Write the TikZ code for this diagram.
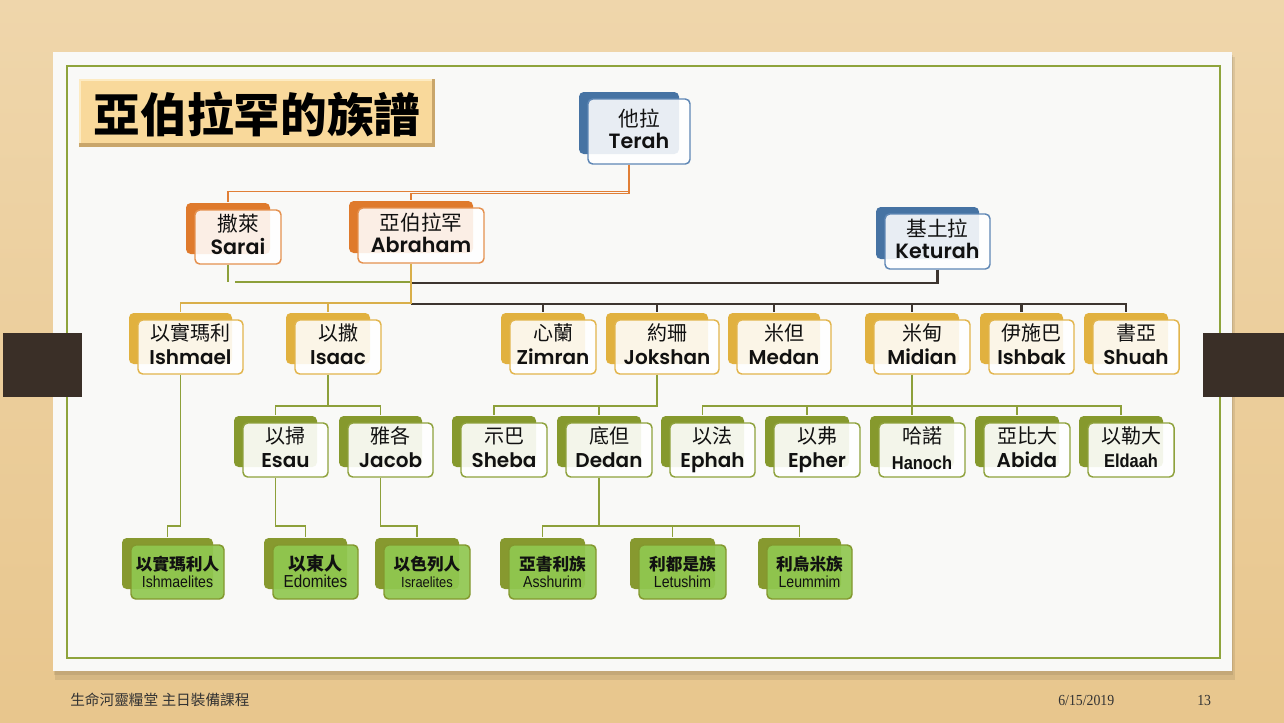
\documentclass[tikz,border=0pt]{standalone}
\usepackage{fontspec}
\setmainfont{Poppins}[BoldFont={Poppins SemiBold}]
\newfontfamily\cjk{Noto Sans CJK TC}
\newfontfamily\arf{Liberation Sans}[FakeStretch=0.88]
\newfontfamily\serf{Liberation Serif}[FakeStretch=0.9]
\definecolor{bgtop}{HTML}{EFD6AB}
\definecolor{bgbot}{HTML}{E8C68D}
\definecolor{paper}{HTML}{F9F9F7}
\definecolor{frame}{HTML}{8FA43C}
\definecolor{band}{HTML}{3A2F27}
\definecolor{tmain}{HTML}{F9D99B}
\definecolor{tdark}{HTML}{C9A66B}
\definecolor{tlight}{HTML}{FDEBC2}
\definecolor{cblue}{HTML}{4673A3}
\definecolor{cblueb}{HTML}{5F87B5}
\definecolor{corange}{HTML}{DF7A2C}
\definecolor{coranb}{HTML}{E5914F}
\definecolor{cgold}{HTML}{E1B13F}
\definecolor{cgoldb}{HTML}{E2B54D}
\definecolor{cgreen}{HTML}{86992D}
\definecolor{cgreenb}{HTML}{8FA23D}
\definecolor{clime}{HTML}{90C850}
\definecolor{climeb}{HTML}{83982E}
\definecolor{climeback}{HTML}{87992F}
\definecolor{txt}{HTML}{111111}
\definecolor{lor}{HTML}{E17F36}
\definecolor{lgold}{HTML}{D9AF4A}
\definecolor{lolive}{HTML}{8DA03A}
\definecolor{ldark}{HTML}{3D352F}
\tikzset{
  box/.style={rectangle, rounded corners=3.5pt, inner sep=0pt, line width=1.1pt},
  blueback/.style={box, fill=cblue},
  bluefront/.style={box, draw=cblueb, fill=white, fill opacity=0.88},
  orangeback/.style={box, fill=corange},
  orangefront/.style={box, draw=coranb, fill=white, fill opacity=0.88},
  goldback/.style={box, fill=cgold},
  goldfront/.style={box, draw=cgoldb, fill=white, fill opacity=0.88},
  greenback/.style={box, fill=cgreen},
  greenfront/.style={box, draw=cgreenb, fill=white, fill opacity=0.9},
  limeback/.style={box, fill=climeback},
  limefront/.style={box, draw=climeb, fill=clime, fill opacity=0.92},
  cjkbase/.style={inner sep=0pt, text=txt, font=\cjk\fontsize{15}{18}\selectfont},
  engbase/.style={inner sep=0pt, text=txt, anchor=base, font=\bfseries\fontsize{15}{18}\selectfont},
  bluecjk/.style={cjkbase, font=\cjk\fontsize{15.5}{18}\selectfont, yshift=9.75pt},
  blueeng/.style={engbase, font=\bfseries\fontsize{15.5}{18}\selectfont, yshift=-12.75pt},
  orangecjk/.style={bluecjk},
  orangeeng/.style={blueeng},
  goldcjk/.style={cjkbase, yshift=10.5pt},
  goldeng/.style={engbase, yshift=-12.75pt},
  greencjk/.style={goldcjk},
  greeneng/.style={goldeng},
  limecjk/.style={cjkbase, font=\cjk\bfseries\fontsize{12.5}{15}\selectfont, yshift=6pt},
  limeeng/.style={engbase, font=\arf\fontsize{12}{14}\selectfont, yshift=-11.25pt},
  orl/.style={draw=lor, line width=1.1pt},
  gol/.style={draw=lgold, line width=1.1pt},
  oll/.style={draw=lolive, line width=1.1pt},
  dkl/.style={draw=ldark, line width=1.6pt},
}
% name, kind, cx, cy, w, h, cjk, eng
\newcommand{\famnode}[8]{%
  \node[#2back, minimum width={(#5-2)*0.75pt}, minimum height={(#6-3)*0.75pt}] (#1b) at (#3-10,#4-8.5) {};
  \node[#2front, minimum width={#5*0.75pt}, minimum height={#6*0.75pt}] (#1) at (#3,#4) {};
  \node[#2cjk] (#1c) at (#3,#4) {#7};
  \node[#2eng] (#1e) at (#3,#4) {#8};
}
\begin{document}
\begin{tikzpicture}[x=0.75pt,y=-0.75pt]
\useasboundingbox (0,0) rectangle (1284,722);
\shade[top color=bgtop, bottom color=bgbot] (0,0) rectangle (1284,722);
% paper with shadow
\fill[black, opacity=0.08] (55,57) rectangle (1235,680);
\fill[black, opacity=0.08] (54,55) rectangle (1233,675);
\fill[paper] (53,52) rectangle (1232,671);
\draw[frame, line width=1.2pt] (67,66) rectangle (1220,658);
% side bands
\fill[band] (3,333) rectangle (82,397);
\fill[band] (1203,333) rectangle (1284,397);
% title
\fill[tdark] (79,79) rectangle (435,147);
\fill[tlight] (79,79) rectangle (432,143);
\fill[tmain] (81,81) rectangle (432,143);
\node[inner sep=0pt, font=\cjk\bfseries\fontsize{35}{40}\selectfont] (title) at (257,114) {亞伯拉罕的族譜};
% footer
\node[anchor=west, inner sep=0pt, text=black!80, font=\cjk\fontsize{11}{13}\selectfont] (foot) at (70,700) {生命河靈糧堂 主日裝備課程};
\node[anchor=west, inner sep=0pt, text=black!80, font=\serf\fontsize{11.5}{13}\selectfont] (date) at (1058,700) {6/15/2019};
\node[anchor=west, inner sep=0pt, text=black!80, font=\serf\fontsize{11.5}{13}\selectfont] (page) at (1197,700) {13};
% row 1
\famnode{terah}{blue}{639}{131.5}{102}{65}{他拉}{Terah}
\famnode{sarai}{orange}{238}{237}{86}{54}{撒萊}{Sarai}
\famnode{abraham}{orange}{421}{235.5}{126}{55}{亞伯拉罕}{Abraham}
\famnode{keturah}{blue}{937.5}{241.5}{105}{55}{基土拉}{Keturah}
% row 2
\famnode{ishmael}{gold}{190.5}{347}{105}{54}{以實瑪利}{Ishmael}
\famnode{isaac}{gold}{338}{347}{86}{54}{以撒}{Isaac}
\famnode{zimran}{gold}{553}{347}{86}{54}{心蘭}{Zimran}
\famnode{jokshan}{gold}{667}{347}{104}{54}{約珊}{Jokshan}
\famnode{medan}{gold}{784}{347}{94}{54}{米但}{Medan}
\famnode{midian}{gold}{922}{347}{96}{54}{米甸}{Midian}
\famnode{ishbak}{gold}{1031.5}{347}{85}{54}{伊施巴}{Ishbak}
\famnode{shuah}{gold}{1136}{347}{86}{54}{書亞}{Shuah}
% row 3
\famnode{esau}{green}{285.5}{450}{85}{54}{以掃}{Esau}
\famnode{jacob}{green}{390.5}{450}{85}{54}{雅各}{Jacob}
\famnode{sheba}{green}{504}{450}{86}{54}{示巴}{Sheba}
\famnode{dedan}{green}{609}{450}{86}{54}{底但}{Dedan}
\famnode{ephah}{green}{712.5}{450}{85}{54}{以法}{Ephah}
\famnode{epher}{green}{817}{450}{86}{54}{以弗}{Epher}
\famnode{hanoch}{green}{922}{450}{86}{54}{哈諾}{{\arf\bfseries\fontsize{14}{16}\selectfont\raisebox{-2pt}{Hanoch}}}
\famnode{abida}{green}{1027}{450}{86}{54}{亞比大}{Abida}
\famnode{eldaah}{green}{1131}{450}{86}{54}{以勒大}{{\arf\bfseries\fontsize{14}{16}\selectfont Eldaah}}
% row 4
\famnode{ishmaelites}{lime}{177.5}{572}{93}{54}{以實瑪利人}{Ishmaelites}
\famnode{edomites}{lime}{315.5}{572}{85}{54}{{\fontsize{13.5}{16}\selectfont 以東人}}{{\fontsize{13}{15}\selectfont Edomites}}
\famnode{israelites}{lime}{427}{572}{86}{54}{以色列人}{{\fontsize{11}{13}\selectfont Israelites}}
\famnode{asshurim}{lime}{552.5}{572}{87}{54}{亞書利族}{Asshurim}
\famnode{letushim}{lime}{682.5}{572}{87}{54}{利都是族}{Letushim}
\famnode{leummim}{lime}{809.5}{572}{85}{54}{利烏米族}{Leummim}
% connectors
\draw[orl] (terahb.south |- terah.south) -- ++(0,27) -| (saraib.north);
\draw[orl] (terahb.south |- terah.south) -- ++(0,29) -| (abrahamb.north);
\draw[oll] (saraib.south |- sarai.south) -- ++(0,17);
\coordinate (ma) at (235,282);
\draw[oll] (ma) -- (abrahamb.south |- ma);
\draw[dkl] (keturah.south) -- ++(0,13) -| (abrahamb.south |- 0,304) coordinate (kj);
\foreach \s in {zimran,jokshan,medan,midian,ishbak,shuah} \draw[dkl] (kj) -| (\s b.north);
\draw[gol] (abrahamb.south |- abraham.south) -- (abrahamb.south |- 0,303) coordinate (aj) -| (ishmaelb.north);
\draw[gol] (aj) -| (isaacb.north);
\draw[oll] (isaacb.south |- isaac.south) -- (isaacb.south |- 0,406) coordinate (ij) -| (esaub.north);
\draw[oll] (ij) -| (jacobb.north);
\draw[oll] (jokshanb.south |- jokshan.south) -- (jokshanb.south |- 0,406) coordinate (jj) -| (shebab.north);
\draw[oll] (jj) -| (dedanb.north);
\draw[oll] (midianb.south |- midian.south) -- (midianb.south |- 0,406) coordinate (mj);
\foreach \s in {ephah,epher,hanoch,abida,eldaah} \draw[oll] (mj) -| (\s b.north);
\draw[oll] (ishmaelb.south |- ishmael.south) -- (ishmaelb.south |- 0,526) -| (ishmaelitesb.north);
\draw[oll] (esaub.south |- esau.south) -- (esaub.south |- 0,526) -| (edomitesb.north);
\draw[oll] (jacobb.south |- jacob.south) -- (jacobb.south |- 0,526) -| (israelitesb.north);
\draw[oll] (dedanb.south |- dedan.south) -- (dedanb.south |- 0,526) coordinate (dj);
\foreach \s in {asshurim,letushim,leummim} \draw[oll] (dj) -| (\s b.north);
\end{tikzpicture}
\end{document}
